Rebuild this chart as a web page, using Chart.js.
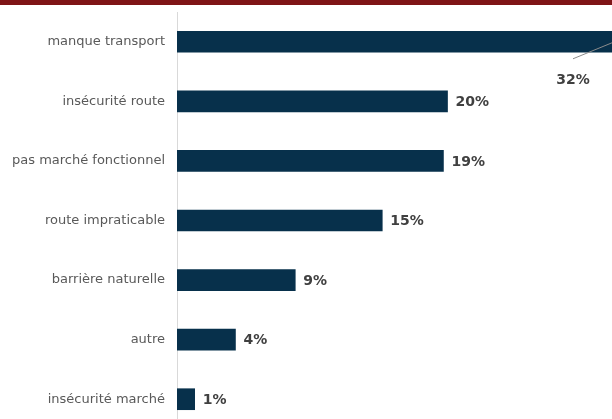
<!DOCTYPE html>
<html><head><meta charset="utf-8">
<script src="https://cdn.jsdelivr.net/npm/chart.js@4/dist/chart.umd.min.js"></script>
<style>
html,body{margin:0;padding:0;background:#fff;overflow:hidden;}
#wrap{position:relative;width:612px;height:419px;overflow:hidden;}
#band{position:absolute;left:0;top:0;width:612px;height:5px;background:#7f1416;z-index:2;}
#inner{position:absolute;left:0;top:0;width:612px;height:440px;}
</style></head>
<body>
<div id="wrap"><div id="band"></div><div id="inner"><canvas id="c"></canvas></div></div>
<script>
const categories = ["manque transport","insécurité route","pas marché fonctionnel","route impraticable","barrière naturelle","autre","insécurité marché"];
const values = [32, 19.9, 19.6, 15.1, 8.7, 4.3, 1.3];
const valueLabels = ["32%","20%","19%","15%","9%","4%","1%"];

const labelPlugin = {
  id: 'valueLabels',
  afterDatasetsDraw(chart) {
    const ctx = chart.ctx;
    const meta = chart.getDatasetMeta(0);
    const xs = chart.scales.x;
    ctx.save();
    ctx.font = 'bold 14px "DejaVu Sans", Verdana, sans-serif';
    ctx.fillStyle = '#404040';
    ctx.textBaseline = 'middle';
    meta.data.forEach((bar, i) => {
      if (i === 0) {
        const xe = Math.min(xs.getPixelForValue(values[i]), chart.width);
        const yc = bar.y;
        ctx.strokeStyle = '#8c8c8c';
        ctx.lineWidth = 1;
        ctx.beginPath();
        ctx.moveTo(xe, yc + 1);
        ctx.lineTo(xe - 39, yc + 17);
        ctx.stroke();
        ctx.textAlign = 'center';
        ctx.fillText(valueLabels[i], xe - 39, yc + 39);
      } else {
        ctx.textAlign = 'left';
        ctx.fillText(valueLabels[i], bar.x + 8, bar.y + 1);
      }
    });
    ctx.restore();
  }
};

new Chart(document.getElementById('c'), {
  type: 'bar',
  data: {
    labels: categories,
    datasets: [{ data: values, backgroundColor: '#07304b', barThickness: 21, borderWidth: 0 }]
  },
  options: {
    indexAxis: 'y',
    responsive: true,
    maintainAspectRatio: false,
    devicePixelRatio: 1,
    animation: false,
    layout: { padding: { top: 12, bottom: 11, left: 0, right: 0 } },
    plugins: { legend: { display: false }, tooltip: { enabled: false } },
    scales: {
      x: { display: false, min: 0, max: 32 },
      y: {
        afterFit(scale) { scale.width = 177; scale.paddingTop = 0; scale.paddingBottom = 0; },
        grid: { display: true, color: 'rgba(0,0,0,0)', drawTicks: false },
        border: { display: true, color: '#d9d9d9', width: 1 },
        ticks: { padding: 12, color: '#595959', font: { family: '"DejaVu Sans", Verdana, sans-serif', size: 13 } }
      }
    }
  },
  plugins: [labelPlugin]
});
</script>
</body></html>
